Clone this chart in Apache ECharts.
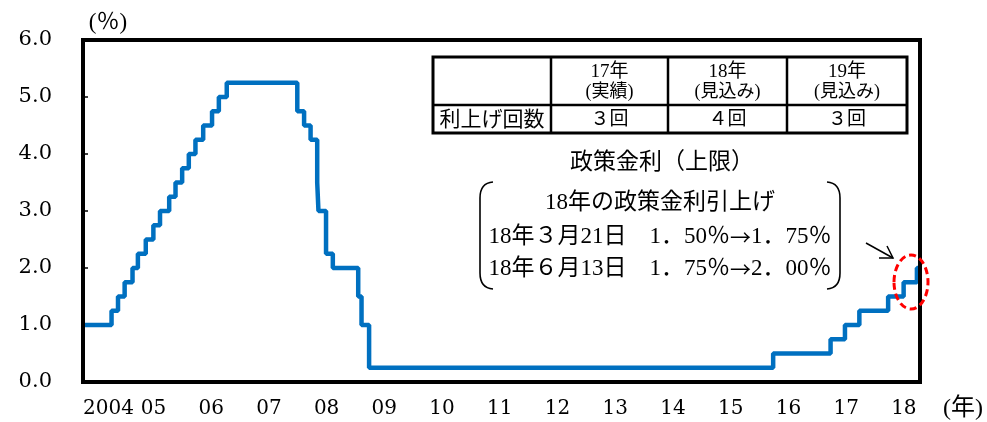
<!DOCTYPE html>
<html>
<head>
<meta charset="utf-8">
<script src="https://cdn.jsdelivr.net/npm/echarts@6/dist/echarts.min.js"></script>
<style>
  html, body { margin: 0; padding: 0; background: #fff; }
  #chart { width: 987px; height: 422px; }
</style>
</head>
<body>
<div id="chart"></div>
<script>
// policy rate (upper bound), change dates and new level
const changeDates = [
  '2004-01-01', '2004-06-30', '2004-08-10', '2004-09-21', '2004-11-10', '2004-12-14',
  '2005-02-02', '2005-03-22', '2005-05-03', '2005-06-30', '2005-08-09', '2005-09-20',
  '2005-11-01', '2005-12-13', '2006-01-31', '2006-03-28', '2006-05-10', '2006-06-29',
  '2007-09-18', '2007-10-31', '2007-12-11', '2008-01-22', '2008-01-30', '2008-03-18',
  '2008-04-30', '2008-10-08', '2008-10-29', '2008-12-16', '2015-12-16', '2016-12-14',
  '2017-03-15', '2017-06-14', '2017-12-13', '2018-03-21', '2018-06-13', '2018-07-01'
];
const rateUpper = [
  1.00, 1.25, 1.50, 1.75, 2.00, 2.25,
  2.50, 2.75, 3.00, 3.25, 3.50, 3.75,
  4.00, 4.25, 4.50, 4.75, 5.00, 5.25,
  4.75, 4.50, 4.25, 3.50, 3.00, 2.25,
  2.00, 1.50, 1.00, 0.25, 0.50, 0.75,
  1.00, 1.25, 1.50, 1.75, 2.00, 2.00
];
const yearTicks = ['2004', '05', '06', '07', '08', '09', '10', '11', '12', '13', '14', '15', '16', '17', '18'];
const tableHead = [['17年', '(実績)'], ['18年', '(見込み)'], ['19年', '(見込み)']];
const hikeCounts = ['３回', '４回', '３回'];
// {a|→} is drawn with the CJK font so the arrow is full width
const noteLines = ['18年の政策金利引上げ', '18年３月21日　1．50％{a|→}1．75％', '18年６月13日　1．75％{a|→}2．00％'];

const FONT = "'Liberation Serif', 'Noto Sans CJK JP', serif";
const AXIS_FONT = "'DejaVu Serif', 'Noto Sans CJK JP', serif";

function toYear(s) {
  const d = new Date(s + 'T00:00:00Z');
  const y = d.getUTCFullYear();
  const start = Date.UTC(y, 0, 1), end = Date.UTC(y + 1, 0, 1);
  return y + (d.getTime() - start) / (end - start);
}

const seriesData = changeDates.map((d, i) => [toYear(d), rateUpper[i]]);

const chart = echarts.init(document.getElementById('chart'), null, { renderer: 'canvas' });

function txt(x, y, text, size, font) {
  return { type: 'text', x: x, y: y, z: 12,
    style: {
      text: text, font: size + 'px ' + (font || FONT), fill: '#000', align: 'center', verticalAlign: 'middle',
      rich: { a: { fontFamily: 'Noto Sans CJK JP', fontSize: size - 2, fill: '#000' } }
    } };
}

// table geometry
const colX = [433, 551, 668, 787, 907];
const rowY = [57, 105, 133];
const tableEls = [];
tableEls.push({ type: 'rect', shape: { x: colX[0], y: rowY[0], width: colX[4] - colX[0], height: rowY[2] - rowY[0] },
  style: { fill: '#fff', stroke: '#000', lineWidth: 3 }, z: 10 });
[colX[1], colX[2], colX[3]].forEach(x => tableEls.push({ type: 'line', shape: { x1: x, y1: rowY[0], x2: x, y2: rowY[2] },
  style: { stroke: '#000', lineWidth: 2.5 }, z: 11 }));
tableEls.push({ type: 'line', shape: { x1: colX[0], y1: rowY[1], x2: colX[4], y2: rowY[1] },
  style: { stroke: '#000', lineWidth: 2.5 }, z: 11 });
tableHead.forEach((h, i) => {
  const cx = (colX[i + 1] + colX[i + 2]) / 2;
  tableEls.push(txt(cx, 72, h[0], 19));
  tableEls.push(txt(cx, 92, h[1], 18));
  tableEls.push(txt(cx, 120, hikeCounts[i], 19));
});
tableEls.push(txt((colX[0] + colX[1]) / 2, 120, '利上げ回数', 21));

// note with big parentheses
const parenStyle = { fill: 'none', stroke: '#000', lineWidth: 1.6 };
const noteEls = [
  txt(662, 163, '政策金利（上限）', 23),
  { type: 'bezierCurve', shape: { x1: 493, y1: 182, cpx1: 480, cpy1: 183, x2: 480, y2: 198 }, style: parenStyle, z: 12 },
  { type: 'line', shape: { x1: 480, y1: 198, x2: 480, y2: 273 }, style: parenStyle, z: 12 },
  { type: 'bezierCurve', shape: { x1: 480, y1: 273, cpx1: 480, cpy1: 288, x2: 493, y2: 289 }, style: parenStyle, z: 12 },
  { type: 'bezierCurve', shape: { x1: 827, y1: 182, cpx1: 840, cpy1: 183, x2: 840, y2: 198 }, style: parenStyle, z: 12 },
  { type: 'line', shape: { x1: 840, y1: 198, x2: 840, y2: 273 }, style: parenStyle, z: 12 },
  { type: 'bezierCurve', shape: { x1: 840, y1: 273, cpx1: 840, cpy1: 288, x2: 827, y2: 289 }, style: parenStyle, z: 12 }
];
noteLines.forEach((t, i) => noteEls.push(txt(660, [203, 237, 269][i], t, 23)));

// arrow + dashed ellipse
const markEls = [
  { type: 'line', shape: { x1: 866, y1: 243, x2: 893, y2: 258 }, style: { stroke: '#000', lineWidth: 1.5 }, z: 12 },
  { type: 'polyline', shape: { points: [[879, 258], [893, 258], [887, 246]] }, style: { fill: 'none', stroke: '#000', lineWidth: 1.5 }, z: 12 },
  { type: 'ellipse', shape: { cx: 911, cy: 282, rx: 17, ry: 27 }, style: { fill: 'none', stroke: '#ff0000', lineWidth: 3, lineDash: [7, 4] }, z: 12 }
];

const option = {
  animation: false,
  backgroundColor: '#fff',
  grid: { left: 83, right: 67, top: 40, bottom: 40, show: true, borderColor: '#000', borderWidth: 4, backgroundColor: 'transparent', z: 3 },
  xAxis: {
    type: 'value',
    min: 2004,
    max: 2018.5,
    interval: 1,
    splitLine: { show: false },
    axisLine: { show: false },
    axisTick: { show: false },
    axisLabel: {
      margin: 17,
      align: 'left',
      fontFamily: AXIS_FONT,
      fontSize: 20,
      color: '#000',
      formatter: v => Number.isInteger(v) ? (yearTicks[v - 2004] || '') : ''
    }
  },
  yAxis: {
    type: 'value',
    min: 0,
    max: 6,
    interval: 1,
    splitLine: { show: false },
    axisLine: { show: false },
    axisTick: { show: true, inside: true, length: 5, lineStyle: { color: '#000', width: 1.5 } },
    axisLabel: {
      margin: 31,
      fontFamily: AXIS_FONT,
      fontSize: 21,
      color: '#000',
      formatter: v => v.toFixed(1)
    }
  },
  series: [{
    type: 'line',
    step: 'end',
    data: seriesData,
    showSymbol: false,
    lineStyle: { color: '#0070C0', width: 4.5 },
    z: 2
  }],
  graphic: [
    ...tableEls,
    ...noteEls,
    ...markEls,
    txt(108, 23, '(％)', 23),
    txt(963, 409, '(年)', 24)
  ]
};

chart.setOption(option);
</script>
</body>
</html>
